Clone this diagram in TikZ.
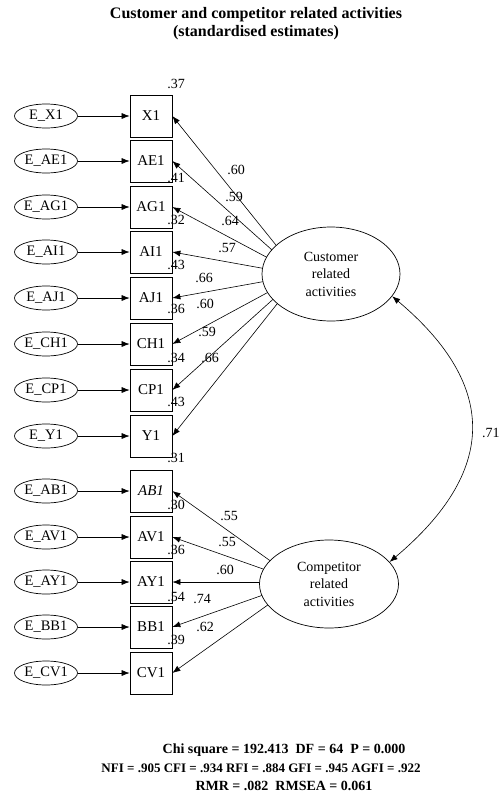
\documentclass[tikz,border=0pt]{standalone}
\usepackage{fontspec}
\setmainfont{Liberation Serif}
\usetikzlibrary{arrows.meta,shapes.geometric}

\tikzset{
  obsbox/.style={draw, line width=0.7pt, minimum width=42pt, minimum height=42pt, inner sep=0pt, font=\fontsize{15}{15}\selectfont},
  errnode/.style={draw, ellipse, line width=0.7pt, minimum width=63pt, minimum height=24pt, inner sep=0pt, font=\fontsize{14.5}{14.5}\selectfont},
  latnode/.style={draw, ellipse, fill=white, line width=0.7pt, align=center, inner sep=0pt, font=\fontsize{14}{17.5}\selectfont},
  arw/.style={-{Latex[length=8pt,width=6pt]}, line width=0.6pt},
  coef/.style={inner sep=0pt, font=\fontsize{14}{14}\selectfont},
  fitline/.style={font=\bfseries\fontsize{14}{14}\selectfont},
}

\begin{document}
\begin{tikzpicture}[x=1pt,y=-1pt]
\useasboundingbox (0,0) rectangle (501,801);

% タイトル
\node[align=center, font=\bfseries\fontsize{16}{18}\selectfont] (title) at (256,24) {Customer and competitor related activities\\(standardised estimates)};

% 観測変数と誤差変数
\foreach \name/\y/\txt in {X1/116/X1, AE1/161/AE1, AG1/207/AG1, AI1/252/AI1, AJ1/298/AJ1, CH1/344/CH1, CP1/390/CP1, Y1/436/Y1,
    AB1/491/{\textit{AB1}}, AV1/537/AV1, AY1/582/AY1, BB1/627/BB1, CV1/673/CV1} {
    \node[errnode] (e\name) at (46,\y) {E\_\name};
    \node[obsbox] (\name) at (151,\y) {\txt};
    \draw[arw] (e\name) -- (\name);
}

% 決定係数
\foreach \name/\ry/\val in {X1/84/.37, AE1/178/.41, AG1/220/.32, AI1/265/.43, AJ1/309/.36, CH1/358/.34,
    CP1/402/.43, Y1/458/.31, AB1/505/.30, AV1/550/.36, AY1/597/.54, BB1/640/.39} {
    \node[coef] (r\name) at (176,\ry) {\val};
}

% 因子負荷(Customer)
\coordinate (custfan) at (300,275);
\foreach \name/\lx/\ly/\val in {X1/236/170/.60, AE1/234/197/.59, AG1/230/221/.64, AI1/227/248/.57,
    AJ1/204/278/.66, CH1/205/304/.60, CP1/207/332/.59, Y1/210/358/.66} {
    \draw[arw] (custfan) -- (\name.east);
    \node[coef] (l\name) at (\lx,\ly) {\val};
}

% 因子負荷(Competitor)
\coordinate (compfan) at (300,582);
\foreach \name/\lx/\ly/\val in {AB1/229/516/.55, AV1/227/542/.55, AY1/225/570/.60, BB1/202/599/.74, CV1/205/627/.62} {
    \draw[arw] (compfan) -- (\name.east);
    \node[coef] (l\name) at (\lx,\ly) {\val};
}

% 潜在変数
\node[latnode, minimum width=138pt, minimum height=94pt] (cust) at (331,274) {Customer\\related\\activities};
\node[latnode, minimum width=139pt, minimum height=88pt] (comp) at (329,584) {Competitor\\related\\activities};

% 共分散
\draw[{Latex[length=8pt,width=6pt]}-{Latex[length=8pt,width=6pt]}, line width=0.6pt]
    (cust.-20) .. controls +(107,90) and +(107,-90) .. (comp.20);
\node[coef, anchor=west] (cov) at (482,433) {.71};

% 適合度
\node[fitline] (fit1) at (284,750) {Chi square = 192.413\ \ DF = 64\ \ P = 0.000};
\node[fitline, font=\bfseries\fontsize{13}{13}\selectfont] (fit2) at (261,768) {NFI = .905 CFI = .934 RFI = .884 GFI = .945 AGFI = .922};
\node[fitline] (fit3) at (284,786) {RMR = .082\ \ RMSEA = 0.061};
\end{tikzpicture}
\end{document}
